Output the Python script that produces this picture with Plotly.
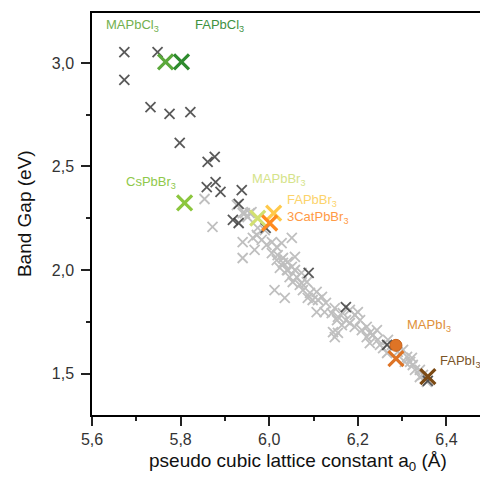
import plotly.graph_objects as go

# ---- data ----
gray_x = [5.854, 5.872, 5.940, 5.940, 5.951, 5.945, 5.963, 5.972, 5.983, 5.994, 6.006, 6.017, 6.028, 6.051,
          6.006, 6.019, 6.031, 6.042, 6.058, 6.024, 6.042, 6.058, 6.073, 5.940, 5.960, 6.017, 6.031, 6.040,
          6.051, 6.046, 6.062, 6.053, 6.073, 6.085, 6.012, 6.035, 6.076, 6.092, 6.107, 6.098, 6.087, 6.110,
          6.107, 6.125, 6.148, 6.141, 6.155, 6.166, 6.182, 6.193, 6.200, 6.164, 6.182, 6.193, 6.209, 6.220,
          6.227, 6.155, 6.144, 6.243, 6.153, 6.148, 6.220, 6.234, 6.245, 6.250, 6.227, 6.257, 6.266, 6.302,
          6.311, 6.322, 6.306, 6.324, 6.329, 6.340, 6.347, 6.340, 6.356, 5.927, 5.956, 5.967, 5.990, 5.974,
          6.069, 6.119, 6.128, 6.173, 6.205, 6.277, 6.290, 6.318, 6.268]
gray_y = [2.343, 2.208, 2.135, 2.058, 2.256, 2.275, 2.155, 2.169, 2.145, 2.121, 2.135, 2.111, 2.130, 2.155,
          2.082, 2.072, 2.058, 2.039, 2.063, 2.010, 2.000, 2.000, 1.986, 2.275, 2.280, 2.048, 2.034, 2.000,
          2.015, 1.966, 1.966, 1.942, 1.937, 1.942, 1.903, 1.865, 1.903, 1.889, 1.894, 1.855, 1.865, 1.855,
          1.797, 1.797, 1.816, 1.792, 1.773, 1.792, 1.807, 1.783, 1.797, 1.734, 1.744, 1.725, 1.710, 1.725,
          1.696, 1.696, 1.700, 1.710, 1.758, 1.676, 1.676, 1.686, 1.662, 1.638, 1.647, 1.623, 1.599, 1.614,
          1.580, 1.575, 1.556, 1.541, 1.517, 1.517, 1.493, 1.483, 1.459, 2.314, 2.275, 2.097, 2.193, 2.203,
          1.928, 1.870, 1.841, 1.758, 1.758, 1.638, 1.604, 1.556, 1.662]

dark_x = [5.673, 5.748, 5.673, 5.732, 5.775, 5.822, 5.798, 5.861, 5.877, 5.859, 5.879, 5.890, 5.938,
          5.931, 5.918, 5.931, 5.992, 6.089, 6.173, 6.266, 6.358]
dark_y = [3.053, 3.053, 2.918, 2.787, 2.754, 2.763, 2.614, 2.522, 2.546, 2.400, 2.425, 2.377, 2.386,
          2.319, 2.242, 2.227, 2.203, 1.986, 1.821, 1.638, 1.464]

materials = ["MAPbCl<sub>3</sub>", "FAPbCl<sub>3</sub>", "CsPbBr<sub>3</sub>", "MAPbBr<sub>3</sub>",
             "FAPbBr<sub>3</sub>", "3CatPbBr<sub>3</sub>", "MAPbI<sub>3</sub>", "FAPbI<sub>3</sub>"]
mat_x = [5.766, 5.802, 5.809, 5.974, 6.010, 6.001, 6.286, 6.358]
mat_y = [3.005, 3.005, 2.324, 2.250, 2.275, 2.227, 1.572, 1.485]
mat_color = ["#5aa83a", "#2e8b2e", "#8cc63e", "#d2e070", "#ffc94a", "#ff8a1f", "#de7426", "#7b4a14"]
label_color = ["#72b04e", "#3f923f", "#8fc84a", "#d5e38a", "#fcd36b", "#ff9a45", "#e0903a", "#7a5428"]
label_x = [5.626, 5.827, 5.673, 5.956, 6.035, 6.035, 6.306, 6.381]
label_y = [3.179, 3.179, 2.425, 2.435, 2.338, 2.256, 1.734, 1.556]

mapbi3_circle_x = [6.286]
mapbi3_circle_y = [1.636]

x_ticks = [5.6, 5.8, 6.0, 6.2, 6.4]
y_ticks = [1.5, 2.0, 2.5, 3.0]

fig = go.Figure()
fig.add_trace(go.Scatter(x=gray_x, y=gray_y, mode="markers",
                         marker=dict(symbol="x-thin", size=10, line=dict(color="#bfbfbf", width=1.8))))
fig.add_trace(go.Scatter(x=dark_x, y=dark_y, mode="markers",
                         marker=dict(symbol="x-thin", size=10, line=dict(color="rgba(60,60,60,0.85)", width=1.8))))
fig.add_trace(go.Scatter(x=mapbi3_circle_x, y=mapbi3_circle_y, mode="markers",
                         marker=dict(symbol="circle", size=12, color="#de7426",
                                     line=dict(color="#c8621a", width=1))))
for i in range(len(materials)):
    fig.add_trace(go.Scatter(x=[mat_x[i]], y=[mat_y[i]], mode="markers",
                             marker=dict(symbol="x-thin", size=15,
                                         line=dict(color=mat_color[i], width=3.2))))
    fig.add_annotation(x=label_x[i], y=label_y[i], text=materials[i], showarrow=False,
                       xanchor="left", yanchor="middle",
                       font=dict(family="Liberation Sans, Arial", size=13, color=label_color[i]))

fig.add_annotation(xref="paper", yref="paper", x=0.532, y=-0.117, xanchor="center", yanchor="middle",
                   text="pseudo cubic lattice constant a<sub>0</sub> (Å)", showarrow=False,
                   font=dict(family="Liberation Sans, Arial", size=19, color="#111"))
fig.add_annotation(xref="paper", yref="paper", x=-0.175, y=0.5, xanchor="center", yanchor="middle",
                   text="Band Gap (eV)", textangle=-90, showarrow=False,
                   font=dict(family="Liberation Sans, Arial", size=19, color="#111"))

axis_common = dict(showgrid=False, zeroline=False, showline=True, linecolor="black", linewidth=1.5,
                   ticks="outside", ticklen=9, tickwidth=1.5, tickcolor="#222",
                   tickfont=dict(family="Liberation Sans, Arial", size=16, color="#333"))
fig.update_xaxes(range=[5.6, 6.4757], tickvals=x_ticks,
                 ticktext=[f"{v:.1f}".replace(".", ",") for v in x_ticks], mirror=True,
                 minor=dict(dtick=0.1, tick0=5.6, ticks="outside", ticklen=4, tickcolor="#222"),
                 **axis_common)
fig.update_yaxes(range=[1.2995, 3.2415], tickvals=y_ticks, ticklabelstandoff=4,
                 ticktext=[f"{v:.1f}".replace(".", ",") for v in y_ticks],
                 minor=dict(dtick=0.25, tick0=1.25, ticks="outside", ticklen=4, tickcolor="#222"),
                 **axis_common)
fig.update_layout(width=480, height=481, margin=dict(l=92, r=0, t=13, b=66),
                  paper_bgcolor="white", plot_bgcolor="white", showlegend=False)
fig.write_html("out.html")
